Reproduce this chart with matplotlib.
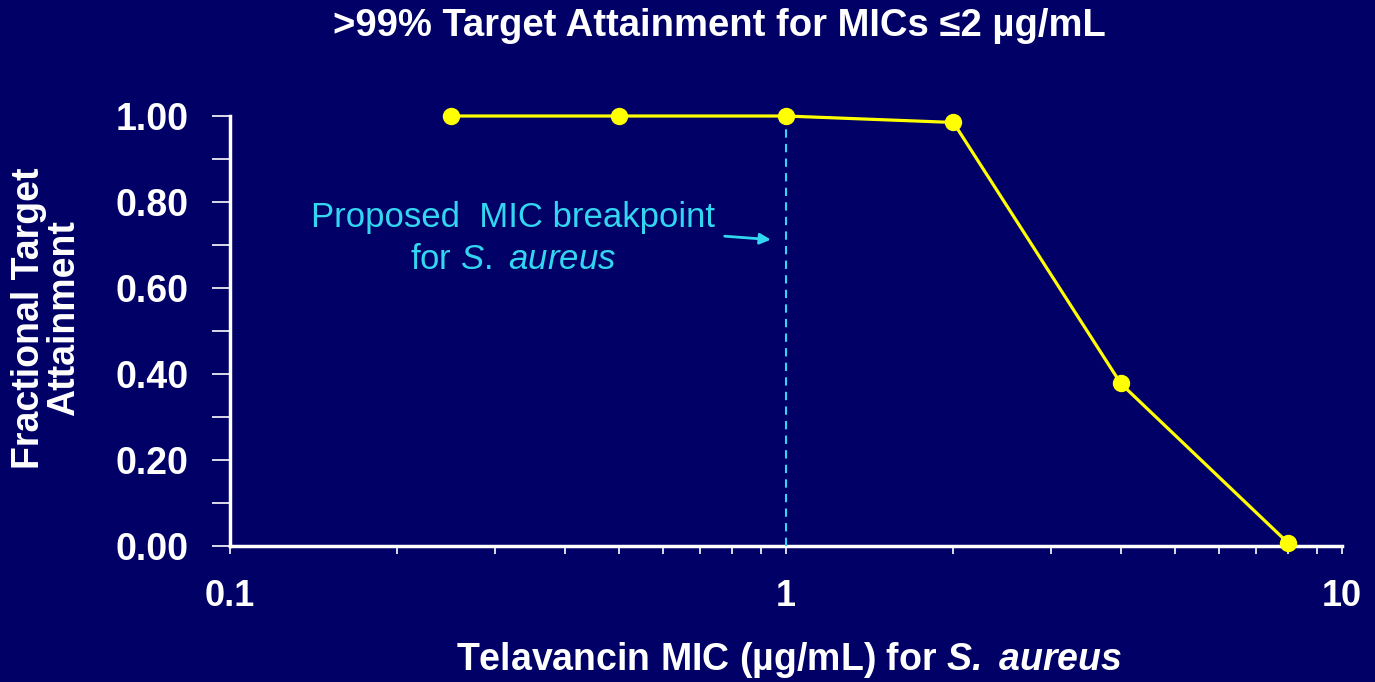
import matplotlib.pyplot as plt
from matplotlib.ticker import FixedLocator, MultipleLocator, NullFormatter

# data
mic = [0.25, 0.5, 1, 2, 4, 8]
attainment = [1.0, 1.0, 1.0, 0.985, 0.378, 0.007]
breakpoint_mic = 1
y_ticks = [0.0, 0.2, 0.4, 0.6, 0.8, 1.0]
y_labels = ['0.00', '0.20', '0.40', '0.60', '0.80', '1.00']
x_ticks = [0.1, 1, 10]
x_labels = ['0.1', '1', '10']

bg = '#000066'
cyan = '#33d6f0'
plt.rcParams['font.family'] = ['Liberation Sans', 'DejaVu Sans']
plt.rcParams['mathtext.fontset'] = 'custom'
plt.rcParams['mathtext.rm'] = 'Liberation Sans'
plt.rcParams['mathtext.it'] = 'Liberation Sans:italic'
plt.rcParams['mathtext.bf'] = 'Liberation Sans:bold'
plt.rcParams['mathtext.bfit'] = 'Liberation Sans:bold:italic'

fig = plt.figure(figsize=(13.75, 6.82), dpi=100, facecolor=bg)
ax = fig.add_axes([0.1673, 0.1994, 0.8087, 0.6305], facecolor=bg)

ax.plot(mic, attainment, color='#ffff00', lw=2.3, marker='o', ms=11.5,
        clip_on=False, zorder=5)
ax.axvline(breakpoint_mic, color=cyan, lw=1.5, ls=(0, (4, 3)), zorder=3)

ax.set_xscale('log')
ax.set_xlim(0.1, 10)
ax.set_ylim(0, 1.0)
ax.set_xticks(x_ticks)
ax.set_xticklabels(x_labels)
ax.xaxis.set_minor_locator(FixedLocator([m * d for d in (0.1, 1) for m in range(2, 10)]))
ax.xaxis.set_minor_formatter(NullFormatter())
ax.set_yticks(y_ticks)
ax.set_yticklabels(y_labels)
ax.yaxis.set_minor_locator(MultipleLocator(0.1))

for s in ['top', 'right']:
    ax.spines[s].set_visible(False)
for s in ['left', 'bottom']:
    ax.spines[s].set_color('white')
    ax.spines[s].set_linewidth(2.5)

ax.tick_params(which='both', colors='white', width=1.2)
ax.tick_params(axis='y', which='both', length=13, pad=17, labelsize=27)
ax.tick_params(axis='x', which='both', length=6)
ax.tick_params(axis='x', which='major', pad=18, labelsize=26)
for lbl in ax.get_xticklabels() + ax.get_yticklabels():
    lbl.set_fontweight('bold')

fig.text(0.574, 0.032, 'Telavancin MIC (µg/mL) for $\\bfit{S.}$ $\\bfit{aureus}$',
         color='white', fontsize=27, fontweight='bold', ha='center', va='center')
fig.text(0.034, 0.534, 'Fractional Target\nAttainment', color='white', fontsize=27,
         fontweight='bold', rotation=90, ha='center', va='center', linespacing=0.95)

fig.text(0.523, 0.962, '>99% Target Attainment for MICs \u22642 µg/mL',
         color='white', fontsize=27.5, fontweight='bold', ha='center', va='center')

ax.annotate('', xy=(0.95, 0.712), xytext=(0.767, 0.721),
            arrowprops=dict(arrowstyle='-|>', color=cyan, lw=2,
                            mutation_scale=16))
ax.text(0.323, 0.716, 'Proposed  MIC breakpoint\nfor $\\it{S.}$ $\\it{aureus}$', color=cyan,
        fontsize=25, ha='center', va='center', linespacing=1.35)

fig.savefig('out.png', dpi=100, facecolor=bg)
